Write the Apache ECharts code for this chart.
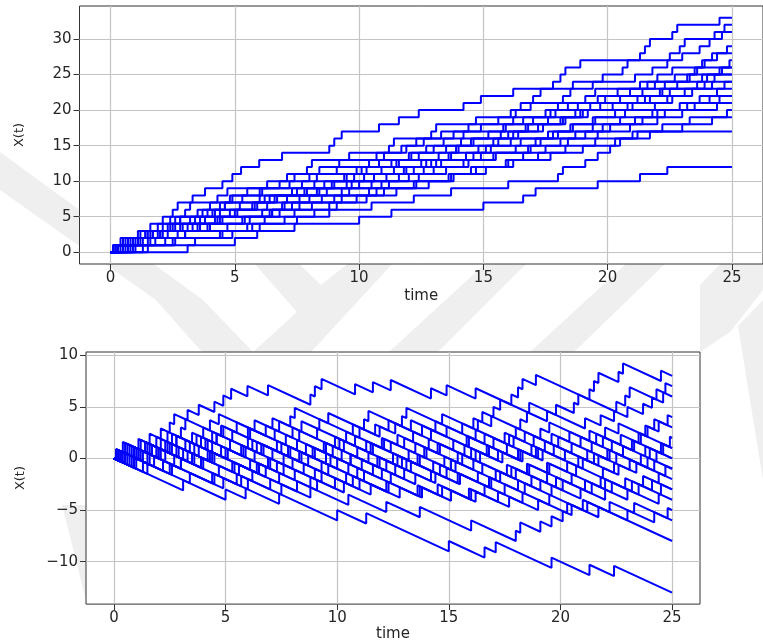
<!DOCTYPE html>
<html>
<head>
<meta charset="utf-8">
<script src="https://cdn.jsdelivr.net/npm/echarts@6/dist/echarts.min.js"></script>
<style>
  html, body { margin: 0; padding: 0; background: #fff; }
  #chart { width: 763px; height: 643px; }
</style>
</head>
<body>
<div id="chart"></div>
<script>
// jump times of the 20 sample paths (top plot = N(t), bottom = N(t) - t)
var jumps = [
  [0.1, 0.5, 1.1, 1.6, 2.1, 2.5, 2.7, 3.3, 3.8, 4.5, 4.9, 5.25, 5.98, 6.9, 8.8, 9.0, 9.3, 10.8, 11.6, 12.4, 14.2, 14.9, 16.2, 17.8, 18.1, 18.3, 18.9, 21.3, 21.5, 21.7, 22.6, 22.8, 24.5],
  [0.3, 0.4, 1.4, 2.6, 2.8, 3.5, 4.6, 4.8, 6.1, 6.3, 7.4, 7.9, 8.1, 9.6, 11.2, 11.4, 12.9, 13.1, 14.7, 16.3, 16.5, 17.0, 17.3, 18.6, 19.8, 20.6, 20.8, 22.5, 22.9, 23.1, 24.3, 24.7],
  [0.2, 0.9, 1.2, 1.9, 2.4, 3.0, 3.2, 4.3, 4.7, 6.8, 7.1, 8.4, 9.2, 10.7, 11.9, 12.3, 13.8, 14.4, 15.6, 16.1, 16.9, 18.2, 18.5, 19.4, 21.1, 21.8, 22.4, 23.0, 23.7, 24.1, 24.6],
  [0.5, 1.0, 1.7, 2.5, 3.6, 3.9, 4.4, 5.3, 6.0, 7.7, 8.3, 9.9, 10.4, 11.0, 11.7, 12.6, 13.3, 14.9, 16.2, 17.5, 18.0, 19.1, 19.5, 21.3, 22.0, 22.6, 23.8, 24.2, 24.8],
  [0.7, 1.3, 2.0, 3.1, 3.4, 4.2, 5.8, 6.6, 7.3, 8.9, 9.5, 10.3, 11.5, 12.1, 13.9, 14.6, 15.2, 15.9, 17.0, 17.7, 18.8, 19.6, 20.9, 21.6, 22.7, 23.5, 23.9, 24.4],
  [0.1, 0.8, 1.5, 2.3, 2.6, 3.7, 4.0, 4.9, 5.5, 7.2, 8.0, 9.1, 11.3, 12.0, 12.7, 13.4, 14.2, 15.8, 16.6, 17.9, 18.4, 19.9, 20.4, 21.9, 23.2, 23.6, 24.9],
  [0.4, 1.8, 2.7, 3.3, 4.5, 5.1, 5.7, 6.4, 7.5, 8.2, 9.4, 10.1, 10.8, 12.4, 13.0, 14.5, 16.0, 16.8, 18.1, 18.7, 19.3, 20.5, 21.4, 22.3, 23.3, 24.5],
  [0.2, 0.6, 1.6, 2.1, 2.8, 4.1, 4.6, 6.2, 7.9, 9.0, 10.6, 11.8, 12.5, 13.7, 14.8, 15.4, 16.2, 17.2, 17.6, 18.9, 19.7, 21.2, 22.2, 22.8, 23.8, 24.6],
  [0.3, 1.1, 1.4, 2.4, 3.8, 4.4, 5.9, 6.7, 8.3, 9.7, 10.2, 10.9, 11.6, 13.2, 13.5, 14.1, 15.7, 16.7, 18.3, 19.2, 20.8, 21.7, 22.5, 23.9, 24.3],
  [0.9, 2.2, 3.0, 4.7, 5.4, 6.1, 6.9, 7.6, 8.7, 10.5, 11.1, 12.2, 13.1, 14.3, 15.1, 15.6, 16.4, 17.4, 18.2, 19.0, 20.2, 21.5, 22.1, 23.6, 24.0],
  [0.6, 1.2, 2.0, 3.5, 4.3, 6.5, 7.0, 8.0, 9.3, 10.0, 10.6, 11.9, 12.7, 13.6, 14.0, 16.1, 17.6, 18.5, 19.4, 20.7, 21.9, 22.6, 23.4, 24.2],
  [0.1, 0.7, 1.9, 2.9, 3.2, 4.8, 5.2, 6.0, 7.8, 8.6, 9.8, 11.4, 12.9, 14.6, 15.3, 16.5, 17.8, 18.6, 19.5, 20.3, 21.0, 22.4, 23.1, 24.7],
  [1.0, 1.6, 3.0, 4.0, 5.6, 6.5, 8.1, 9.3, 10.4, 11.2, 12.4, 13.5, 14.4, 15.5, 16.3, 17.1, 18.0, 19.8, 20.5, 21.8, 22.9, 23.7, 24.4],
  [0.3, 0.9, 2.1, 3.9, 4.2, 5.0, 6.3, 7.1, 8.4, 9.5, 11.6, 12.6, 13.3, 14.9, 16.8, 17.3, 18.7, 19.4, 21.1, 22.3, 23.5, 24.5],
  [1.3, 2.5, 4.9, 5.5, 6.2, 7.4, 8.8, 9.9, 11.0, 12.3, 13.8, 14.7, 15.9, 16.6, 17.5, 18.4, 19.1, 20.1, 21.4, 22.0, 23.2, 24.1],
  [0.5, 1.5, 2.3, 3.6, 5.3, 6.8, 7.6, 8.5, 9.6, 10.9, 12.0, 13.0, 14.2, 15.4, 16.9, 18.1, 19.6, 20.9, 22.0, 23.0, 24.4],
  [0.8, 2.6, 4.5, 5.7, 7.0, 8.2, 9.1, 10.3, 11.5, 12.8, 13.7, 14.5, 16.0, 17.2, 18.3, 19.5, 21.0, 22.2, 23.3, 24.8],
  [0.2, 1.1, 1.7, 2.8, 4.4, 6.4, 7.3, 9.0, 10.7, 12.2, 13.6, 15.1, 16.2, 17.7, 19.0, 20.3, 21.7, 23.0, 24.2],
  [1.5, 3.4, 4.4, 6.0, 7.5, 8.8, 10.5, 12.2, 13.7, 16.0, 18.0, 18.2, 19.1, 19.6, 20.1, 20.5, 21.2],
  [3.1, 5.0, 5.9, 7.4, 10.0, 11.3, 15.0, 16.6, 17.1, 19.6, 21.3, 22.4]
];
var tEnd = 25;

var xTicks = [0, 5, 10, 15, 20, 25];
var yTicksTop = [0, 5, 10, 15, 20, 25, 30];
var yTicksBottom = [-10, -5, 0, 5, 10];

var font = 'DejaVu Sans';
var textColor = '#262626';
var gridColor = '#c4c4c4';

function countPath(ts) {
  var pts = [[0, 0]];
  ts.forEach(function (t, k) {
    pts.push([t, k]);
    pts.push([t, k + 1]);
  });
  pts.push([tEnd, ts.length]);
  return pts;
}

function compensatedPath(ts) {
  var pts = [[0, 0]];
  ts.forEach(function (t, k) {
    pts.push([t, k - t]);
    pts.push([t, k + 1 - t]);
  });
  pts.push([tEnd, ts.length - tEnd]);
  return pts;
}

function minusFmt(v) {
  return v < 0 ? '\u2212' + Math.abs(v) : String(v);
}

function xAxisFor(idx, nameGap) {
  return {
    type: 'value', gridIndex: idx, min: -1.25, max: 26.25,
    name: 'time', nameLocation: 'middle', nameGap: nameGap,
    nameTextStyle: { fontFamily: font, fontSize: 15, color: textColor },
    axisLine: { show: false, onZero: false },
    axisTick: { show: true, customValues: xTicks, length: 6, lineStyle: { color: '#333' } },
    axisLabel: { customValues: xTicks, fontFamily: font, fontSize: 15, color: textColor, margin: 7 },
    splitLine: { show: false }
  };
}

function yAxisFor(idx, min, max, ticks, nameGap) {
  return {
    type: 'value', gridIndex: idx, min: min, max: max,
    name: 'X(t)', nameLocation: 'middle', nameGap: nameGap,
    nameTextStyle: { fontFamily: font, fontSize: 13, color: textColor },
    axisLine: { show: false, onZero: false },
    axisTick: { show: true, customValues: ticks, length: 6, lineStyle: { color: '#333' } },
    axisLabel: { customValues: ticks, formatter: minusFmt, fontFamily: font, fontSize: 15, color: textColor, margin: 8 },
    splitLine: { show: false }
  };
}

// grid lines drawn under the paths (markLine defaults to z 5, so push it down)
function gridLines(idx, yTicks) {
  return {
    type: 'line', xAxisIndex: idx, yAxisIndex: idx, data: [], z: 1, silent: true,
    markLine: {
      z: 1, silent: true, symbol: 'none', animation: false,
      label: { show: false },
      lineStyle: { color: gridColor, width: 1.2, type: 'solid' },
      data: xTicks.map(function (v) { return { xAxis: v }; })
        .concat(yTicks.map(function (v) { return { yAxis: v }; }))
    }
  };
}

var series = [gridLines(0, yTicksTop), gridLines(1, yTicksBottom)];
jumps.forEach(function (ts) {
  series.push({
    type: 'line', xAxisIndex: 0, yAxisIndex: 0, data: countPath(ts),
    showSymbol: false, z: 3, animation: false,
    lineStyle: { color: '#0000ff', width: 2 }
  });
  series.push({
    type: 'line', xAxisIndex: 1, yAxisIndex: 1, data: compensatedPath(ts),
    showSymbol: false, z: 3, animation: false,
    lineStyle: { color: '#0000ff', width: 2 }
  });
});

// faint watermark bands behind the plots
var wm = '#efefef';
var watermark = [
  [[0, 152], [203, 300], [253, 352], [202, 352], [156, 300], [0, 190]],
  [[253, 262], [297, 262], [321, 285], [350, 262], [394, 262], [311, 352], [253, 352], [297, 312]],
  [[487, 262], [528, 262], [438, 352], [389, 352]],
  [[628, 262], [667, 262], [574, 352], [530, 352]],
  [[722, 262], [763, 262], [763, 290], [730, 332], [700, 352], [700, 285]],
  [[738, 326], [763, 300], [763, 480]],
  [[62, 505], [86, 505], [86, 600]]
].map(function (p) {
  return { type: 'polygon', z: -10, silent: true, shape: { points: p }, style: { fill: wm } };
});

var chart = echarts.init(document.getElementById('chart'), null, { renderer: 'canvas' });
chart.setOption({
  animation: false,
  backgroundColor: '#fff',
  graphic: { elements: watermark },
  grid: [
    { left: 79.5, top: 6, width: 693, height: 258, show: true, backgroundColor: '#fff', borderColor: '#333', borderWidth: 1 },
    { left: 86, top: 352, width: 614, height: 254.7, show: true, backgroundColor: '#fff', borderColor: '#333', borderWidth: 1 }
  ],
  xAxis: [xAxisFor(0, 25), xAxisFor(1, 22)],
  yAxis: [
    yAxisFor(0, -1.65, 34.65, yTicksTop, 53),
    yAxisFor(1, -14.11, 10.31, yTicksBottom, 59)
  ],
  series: series
});
</script>
</body>
</html>
